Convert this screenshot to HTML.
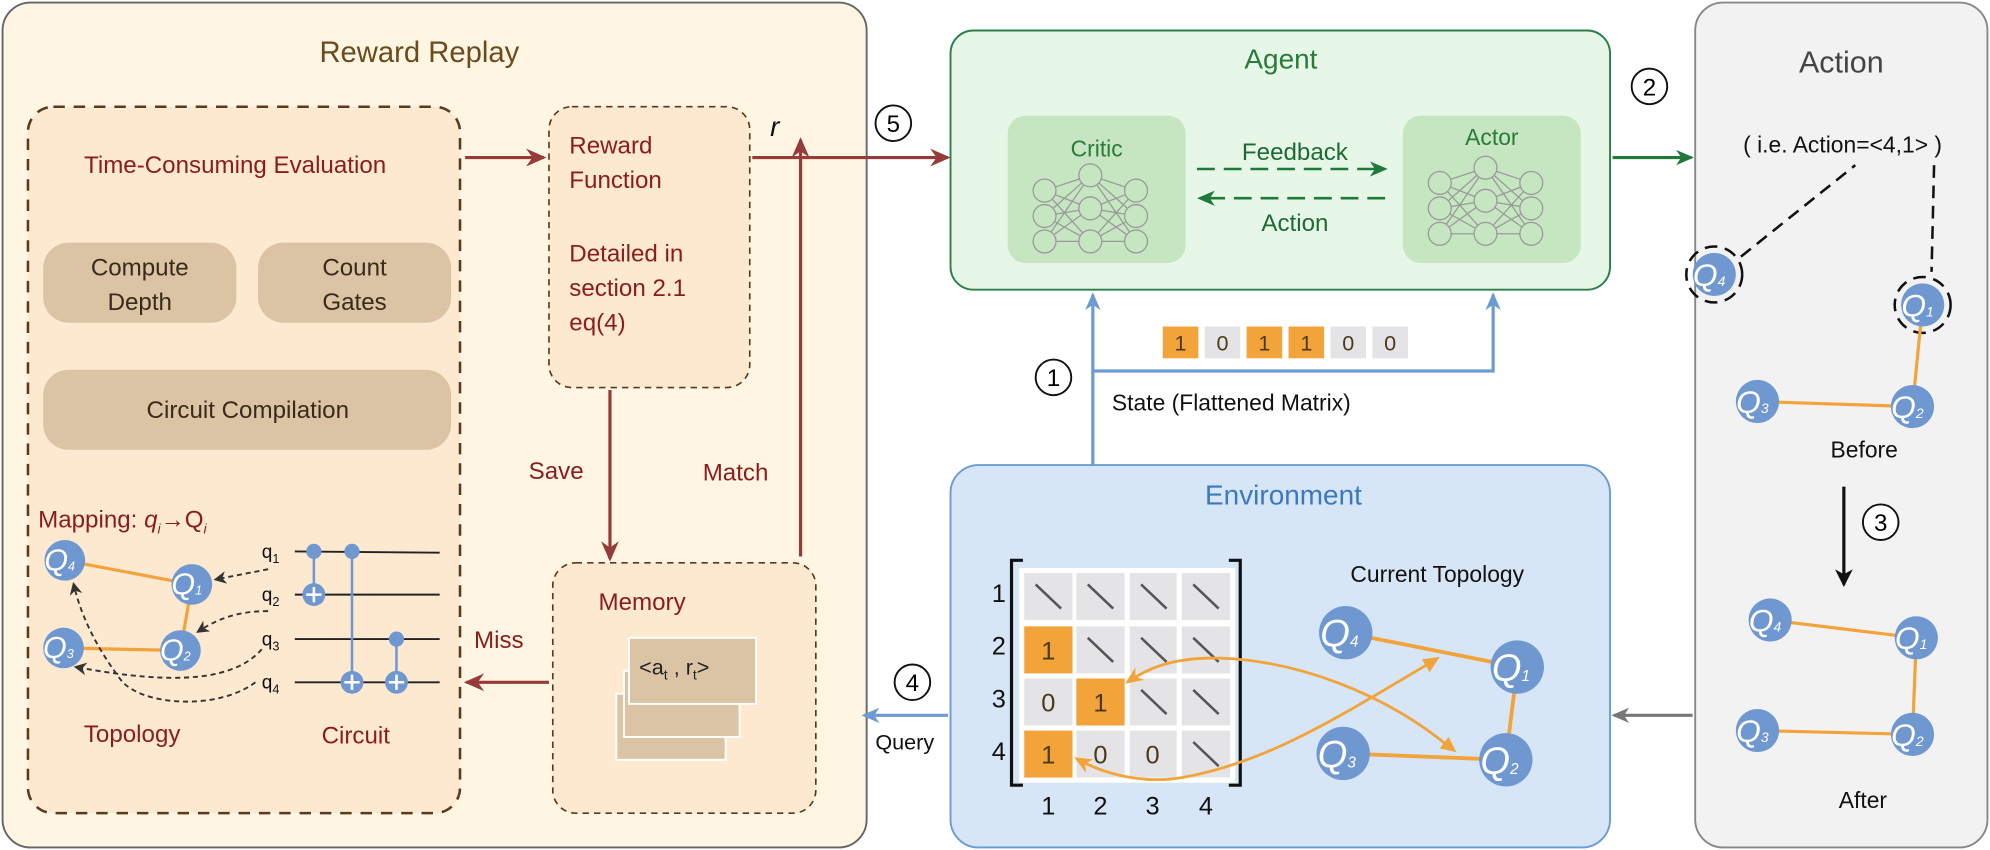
<!DOCTYPE html>
<html><head><meta charset="utf-8"><style>
html,body{margin:0;padding:0;background:#fff;}
svg{display:block;font-family:"Liberation Sans",sans-serif;}
</style></head><body>
<svg width="1990" height="850" viewBox="0 0 1566 669" preserveAspectRatio="none" xmlns="http://www.w3.org/2000/svg">
<defs>
<marker id="ag" markerWidth="14" markerHeight="12" refX="12" refY="6" orient="auto" markerUnits="userSpaceOnUse"><path d="M0,0 L14,6 L0,12 L4,6z" fill="#1f7a3a"/></marker>
<marker id="ab" markerWidth="14" markerHeight="12" refX="12" refY="6" orient="auto" markerUnits="userSpaceOnUse"><path d="M0,0 L14,6 L0,12 L4,6z" fill="#6b9bd2"/></marker>
<marker id="agr" markerWidth="14" markerHeight="12" refX="12" refY="6" orient="auto" markerUnits="userSpaceOnUse"><path d="M0,0 L14,6 L0,12 L4,6z" fill="#777"/></marker>
<marker id="ak" markerWidth="14" markerHeight="14" refX="12" refY="7" orient="auto" markerUnits="userSpaceOnUse"><path d="M0,0 L14,7 L0,14 L4,7z" fill="#111"/></marker>
<marker id="akd" markerWidth="10" markerHeight="10" refX="8" refY="5" orient="auto" markerUnits="userSpaceOnUse"><path d="M0,0 L10,5 L0,10 L3,5z" fill="#333"/></marker>
<marker id="ao" markerWidth="14" markerHeight="12" refX="12" refY="6" orient="auto" markerUnits="userSpaceOnUse"><path d="M0,0 L14,6 L0,12 L4,6z" fill="#f2a33a"/></marker>
<marker id="ar2" markerWidth="16" markerHeight="14" refX="14" refY="7" orient="auto" markerUnits="userSpaceOnUse"><path d="M0,0 L16,7 L0,14 L5,7z" fill="#963a3a"/></marker>
</defs>

<!-- Reward Replay -->
<rect x="2" y="2" width="680" height="665" rx="22" fill="#fef5e2" stroke="#666" stroke-width="1.5"/>
<text x="330" y="49" font-size="23" fill="#6b4a1e" text-anchor="middle">Reward Replay</text>
<rect x="22" y="84" width="340" height="556" rx="20" fill="#fde9d0" stroke="#5a3a1a" stroke-width="2" stroke-dasharray="9,7"/>
<text x="185" y="136" font-size="19" fill="#8b1c1c" text-anchor="middle">Time-Consuming Evaluation</text>
<rect x="34" y="191" width="152" height="63" rx="20" fill="#dbc4a4"/>
<text x="110" y="217" font-size="19" fill="#3a2a1a" text-anchor="middle">Compute</text>
<text x="110" y="244" font-size="19" fill="#3a2a1a" text-anchor="middle">Depth</text>
<rect x="203" y="191" width="152" height="63" rx="20" fill="#dbc4a4"/>
<text x="279" y="217" font-size="19" fill="#3a2a1a" text-anchor="middle">Count</text>
<text x="279" y="244" font-size="19" fill="#3a2a1a" text-anchor="middle">Gates</text>
<rect x="34" y="291" width="321" height="63" rx="20" fill="#dbc4a4"/>
<text x="195" y="329" font-size="19" fill="#3a2a1a" text-anchor="middle">Circuit Compilation</text>

<text x="30" y="415" font-size="19" fill="#8b1c1c">Mapping: <tspan font-style="italic">q</tspan><tspan font-style="italic" font-size="11" dy="5">i</tspan><tspan dy="-5">→Q</tspan><tspan font-style="italic" font-size="11" dy="5">i</tspan></text>
<g stroke="#f2a33a" stroke-width="2.5"><line x1="51" y1="441" x2="151" y2="460"/><line x1="151" y1="460" x2="142" y2="512"/><line x1="50" y1="510" x2="142" y2="512"/></g>
<g fill="#6f98d0"><circle cx="51" cy="441" r="16"/><circle cx="151" cy="460" r="16"/><circle cx="50" cy="510" r="16"/><circle cx="142" cy="512" r="16"/></g>
<g fill="#fff" font-size="24" text-anchor="middle" font-style="italic"><text x="47" y="449">Q<tspan font-size="10">4</tspan></text><text x="147" y="468">Q<tspan font-size="10">1</tspan></text><text x="46" y="518">Q<tspan font-size="10">3</tspan></text><text x="138" y="520">Q<tspan font-size="10">2</tspan></text></g>
<g fill="none" stroke="#333" stroke-width="1.5" stroke-dasharray="4,3">
<path d="M211,448 L170,456" marker-end="url(#akd)"/>
<path d="M211,481 C185,481 170,488 156,497" marker-end="url(#akd)"/>
<path d="M206,511 C185,535 140,540 60,525" marker-end="url(#akd)"/>
<path d="M201,537 C170,560 110,555 95,535 C80,515 65,490 58,460" marker-end="url(#akd)"/>
</g>
<g font-size="15" fill="#111"><text x="206" y="439">q<tspan font-size="10" dy="4">1</tspan></text><text x="206" y="473">q<tspan font-size="10" dy="4">2</tspan></text><text x="206" y="508">q<tspan font-size="10" dy="4">3</tspan></text><text x="206" y="542">q<tspan font-size="10" dy="4">4</tspan></text></g>
<g stroke="#222" stroke-width="1.5"><line x1="232" y1="434" x2="346" y2="435"/><line x1="232" y1="468" x2="346" y2="468"/><line x1="232" y1="503" x2="346" y2="503"/><line x1="232" y1="537" x2="346" y2="537"/></g>
<g stroke="#6f98d0" stroke-width="2"><line x1="247" y1="434" x2="247" y2="468"/><line x1="277" y1="434" x2="277" y2="537"/><line x1="312" y1="503" x2="312" y2="537"/></g>
<g fill="#6f98d0"><circle cx="247" cy="434" r="6"/><circle cx="277" cy="434" r="6"/><circle cx="312" cy="503" r="6"/><circle cx="247" cy="468" r="9"/><circle cx="277" cy="537" r="9"/><circle cx="312" cy="537" r="9"/></g>
<g stroke="#fff" stroke-width="2"><path d="M241,468h12M247,462v12"/><path d="M271,537h12M277,531v12"/><path d="M306,537h12M312,531v12"/></g>
<text x="104" y="584" font-size="19" fill="#8b1c1c" text-anchor="middle">Topology</text>
<text x="280" y="585" font-size="19" fill="#8b1c1c" text-anchor="middle">Circuit</text>

<rect x="432" y="84" width="158" height="221" rx="18" fill="#fde9d0" stroke="#5a3a1a" stroke-width="1.3" stroke-dasharray="5,4"/>
<g font-size="19" fill="#8b1c1c"><text x="448" y="121">Reward</text><text x="448" y="148">Function</text><text x="448" y="206">Detailed in</text><text x="448" y="233">section 2.1</text><text x="448" y="260">eq(4)</text></g>
<rect x="435" y="443" width="207" height="197" rx="18" fill="#fde9d0" stroke="#5a3a1a" stroke-width="1.3" stroke-dasharray="5,4"/>
<text x="471" y="480" font-size="19" fill="#8b1c1c">Memory</text>
<rect x="485" y="546" width="86" height="52" fill="#dbc4a4" stroke="#fff" stroke-width="1.5"/>
<rect x="491" y="528" width="91" height="52" fill="#dbc4a4" stroke="#fff" stroke-width="1.5"/>
<rect x="495" y="502" width="100" height="52" fill="#dbc4a4" stroke="#fff" stroke-width="1.5"/>
<text x="503" y="531" font-size="17" fill="#222">&lt;a<tspan font-size="11" dy="4">t</tspan><tspan dy="-4"> , r</tspan><tspan font-size="11" dy="4">t</tspan><tspan dy="-4">&gt;</tspan></text>

<g stroke="#963a3a" stroke-width="2.5" fill="none">
<line x1="366" y1="124" x2="428" y2="124" marker-end="url(#ar2)"/>
<line x1="592" y1="124" x2="746" y2="124" marker-end="url(#ar2)"/>
<line x1="480" y1="307" x2="480" y2="440" marker-end="url(#ar2)"/>
<line x1="630" y1="438" x2="630" y2="110" marker-end="url(#ar2)"/>
<line x1="432" y1="537" x2="367" y2="537" marker-end="url(#ar2)"/>
</g>
<text x="606" y="107" font-size="22" font-style="italic" fill="#111">r</text>
<text x="416" y="377" font-size="19" fill="#8b1c1c">Save</text>
<text x="553" y="378" font-size="19" fill="#8b1c1c">Match</text>
<text x="373" y="510" font-size="19" fill="#8b1c1c">Miss</text>
<circle cx="703" cy="97" r="14" fill="#fff" stroke="#111" stroke-width="1.5"/><text x="703" y="104" font-size="19" text-anchor="middle">5</text>

<!-- Agent -->
<rect x="748" y="24" width="519" height="204" rx="18" fill="#e6f7e8" stroke="#2e7d4a" stroke-width="1.5"/>
<text x="1008" y="54" font-size="22" fill="#2a7a3a" text-anchor="middle">Agent</text>
<rect x="793" y="91" width="140" height="116" rx="14" fill="#c5e6c0"/>
<rect x="1104" y="91" width="140" height="116" rx="14" fill="#c5e6c0"/>
<text x="863" y="123" font-size="18" fill="#2a7a3a" text-anchor="middle">Critic</text>
<text x="1174" y="114" font-size="18" fill="#2a7a3a" text-anchor="middle">Actor</text>
<g id="nn" stroke="#999" stroke-width="1" fill="none">
<path d="M822,150L858,138M822,150L858,164M822,150L858,190M822,170L858,138M822,170L858,164M822,170L858,190M822,190L858,138M822,190L858,164M822,190L858,190M858,138L894,150M858,138L894,170M858,138L894,190M858,164L894,150M858,164L894,170M858,164L894,190M858,190L894,150M858,190L894,170M858,190L894,190"/>
<g fill="#c5e6c0"><circle cx="822" cy="150" r="9"/><circle cx="822" cy="170" r="9"/><circle cx="822" cy="190" r="9"/><circle cx="858" cy="138" r="9"/><circle cx="858" cy="164" r="9"/><circle cx="858" cy="190" r="9"/><circle cx="894" cy="150" r="9"/><circle cx="894" cy="170" r="9"/><circle cx="894" cy="190" r="9"/></g>
</g>
<use href="#nn" x="311" y="-6"/>
<g stroke="#1f7a3a" stroke-width="2" stroke-dasharray="14,7" fill="none">
<line x1="942" y1="133" x2="1090" y2="133" marker-end="url(#ag)"/>
<line x1="1090" y1="156" x2="944" y2="156" marker-end="url(#ag)"/>
</g>
<text x="1019" y="126" font-size="19" fill="#1f6a34" text-anchor="middle">Feedback</text>
<text x="1019" y="182" font-size="19" fill="#1f6a34" text-anchor="middle">Action</text>
<line x1="1269" y1="124" x2="1331" y2="124" stroke="#1f7a3a" stroke-width="2.5" marker-end="url(#ag)"/>
<circle cx="1298" cy="68" r="14" fill="#fff" stroke="#111" stroke-width="1.5"/><text x="1298" y="75" font-size="19" text-anchor="middle">2</text>

<!-- Action -->
<rect x="1334" y="2" width="230" height="665" rx="22" fill="#f2f2f2" stroke="#888" stroke-width="1.5"/>
<text x="1449" y="57" font-size="24" fill="#444" text-anchor="middle">Action</text>
<text x="1450" y="120" font-size="18" fill="#111" text-anchor="middle">( i.e. Action=&lt;4,1&gt; )</text>
<g stroke="#111" stroke-width="2" stroke-dasharray="10,6" fill="none">
<line x1="1370" y1="202" x2="1460" y2="130"/><line x1="1522" y1="130" x2="1520" y2="214"/>
<circle cx="1349" cy="216" r="22"/><circle cx="1513" cy="240" r="22"/>
</g>
<g stroke="#f2a33a" stroke-width="2.5"><line x1="1513" y1="240" x2="1505" y2="320"/><line x1="1383" y1="316" x2="1505" y2="320"/></g>
<g fill="#6f98d0"><circle cx="1349" cy="216" r="17"/><circle cx="1513" cy="240" r="17"/><circle cx="1383" cy="316" r="17"/><circle cx="1505" cy="320" r="17"/></g>
<g fill="#fff" font-size="25" text-anchor="middle" font-style="italic"><text x="1345" y="225">Q<tspan font-size="11">4</tspan></text><text x="1509" y="249">Q<tspan font-size="11">1</tspan></text><text x="1379" y="325">Q<tspan font-size="11">3</tspan></text><text x="1501" y="329">Q<tspan font-size="11">2</tspan></text></g>
<text x="1467" y="360" font-size="18" fill="#111" text-anchor="middle">Before</text>
<line x1="1451" y1="383" x2="1451" y2="460" stroke="#111" stroke-width="2.5" marker-end="url(#ak)"/>
<circle cx="1480" cy="411" r="14" fill="#fff" stroke="#111" stroke-width="1.5"/><text x="1480" y="418" font-size="19" text-anchor="middle">3</text>
<g stroke="#f2a33a" stroke-width="2.5"><line x1="1393" y1="488" x2="1508" y2="502"/><line x1="1508" y1="502" x2="1505" y2="578"/><line x1="1383" y1="575" x2="1505" y2="578"/></g>
<g fill="#6f98d0"><circle cx="1393" cy="488" r="17"/><circle cx="1508" cy="502" r="17"/><circle cx="1383" cy="575" r="17"/><circle cx="1505" cy="578" r="17"/></g>
<g fill="#fff" font-size="25" text-anchor="middle" font-style="italic"><text x="1389" y="497">Q<tspan font-size="11">4</tspan></text><text x="1504" y="511">Q<tspan font-size="11">1</tspan></text><text x="1379" y="584">Q<tspan font-size="11">3</tspan></text><text x="1501" y="587">Q<tspan font-size="11">2</tspan></text></g>
<text x="1466" y="636" font-size="18" fill="#111" text-anchor="middle">After</text>
<line x1="1332" y1="563" x2="1270" y2="563" stroke="#777" stroke-width="2.5" marker-end="url(#agr)"/>

<!-- Environment -->
<rect x="748" y="366" width="519" height="301" rx="22" fill="#d6e6f7" stroke="#6b9bd2" stroke-width="1.5"/>
<text x="1010" y="397" font-size="22" fill="#3c78c0" text-anchor="middle">Environment</text>
<rect x="802" y="447" width="170" height="169" fill="#fff"/>
<g fill="#e4e4e6">
<rect x="806" y="451" width="38" height="37"/><rect x="847" y="451" width="38" height="37"/><rect x="889" y="451" width="37" height="37"/><rect x="930" y="451" width="38" height="37"/>
<rect x="847" y="493" width="38" height="37"/><rect x="889" y="493" width="37" height="37"/><rect x="930" y="493" width="38" height="37"/>
<rect x="806" y="534" width="38" height="37"/><rect x="889" y="534" width="37" height="37"/><rect x="930" y="534" width="38" height="37"/>
<rect x="847" y="575" width="38" height="37"/><rect x="889" y="575" width="37" height="37"/><rect x="930" y="575" width="38" height="37"/>
</g>
<g fill="#f2a33a"><rect x="806" y="493" width="38" height="37"/><rect x="847" y="534" width="38" height="37"/><rect x="806" y="575" width="38" height="37"/></g>
<g stroke="#555" stroke-width="2">
<path d="M815,460l20,19M856,460l20,19M898,460l20,19M939,460l20,19M856,502l20,19M898,502l20,19M939,502l20,19M898,543l20,19M939,543l20,19M939,584l20,19"/>
</g>
<g font-size="20" fill="#4a3a1a" text-anchor="middle"><text x="825" y="519">1</text><text x="825" y="560">0</text><text x="866" y="560">1</text><text x="825" y="601">1</text><text x="866" y="601">0</text><text x="907" y="601">0</text></g>
<g stroke="#111" stroke-width="2.5" fill="none"><path d="M805,441h-9v177h9"/><path d="M967,441h9v177h-9"/></g>
<g font-size="20" fill="#111" text-anchor="middle"><text x="786" y="474">1</text><text x="786" y="515">2</text><text x="786" y="557">3</text><text x="786" y="598">4</text>
<text x="825" y="641">1</text><text x="866" y="641">2</text><text x="907" y="641">3</text><text x="949" y="641">4</text></g>
<text x="1131" y="458" font-size="18" fill="#111" text-anchor="middle">Current Topology</text>
<g stroke="#f2a33a" stroke-width="3"><line x1="1059" y1="498" x2="1194" y2="525"/><line x1="1194" y1="525" x2="1185" y2="598"/><line x1="1057" y1="593" x2="1185" y2="598"/></g>
<g fill="none" stroke="#f2a33a" stroke-width="2.2">
<path d="M1130,519 C1060,560 1000,600 930,612 C900,617 870,610 847,597" marker-end="url(#ao)"/>
<path d="M1143,590 C1090,545 1020,520 960,518 C920,517 900,528 887,537" marker-end="url(#ao)"/>
</g>
<path d="M1133,517l-14,2l6,10z" fill="#f2a33a"/>
<path d="M1146,592l-6,-12l-7,9z" fill="#f2a33a"/>
<g fill="#6f98d0"><circle cx="1059" cy="498" r="21"/><circle cx="1194" cy="525" r="21"/><circle cx="1057" cy="593" r="21"/><circle cx="1185" cy="598" r="21"/></g>
<g fill="#fff" font-size="30" text-anchor="middle" font-style="italic"><text x="1054" y="509">Q<tspan font-size="12">4</tspan></text><text x="1189" y="536">Q<tspan font-size="12">1</tspan></text><text x="1052" y="604">Q<tspan font-size="12">3</tspan></text><text x="1180" y="609">Q<tspan font-size="12">2</tspan></text></g>

<g stroke="#6b9bd2" stroke-width="2.5" fill="none">
<line x1="860" y1="366" x2="860" y2="232" marker-end="url(#ab)"/>
<polyline points="860,292 1175,292 1175,232" marker-end="url(#ab)"/>
<line x1="746" y1="563" x2="680" y2="563" marker-end="url(#ab)"/>
</g>
<rect x="915" y="257" width="28" height="25" fill="#f2a33a"/><rect x="948" y="257" width="28" height="25" fill="#e4e4e6"/><rect x="981" y="257" width="28" height="25" fill="#f2a33a"/><rect x="1014" y="257" width="28" height="25" fill="#f2a33a"/><rect x="1047" y="257" width="28" height="25" fill="#e4e4e6"/><rect x="1080" y="257" width="28" height="25" fill="#e4e4e6"/>
<g font-size="17" fill="#4a3a1a" text-anchor="middle"><text x="929" y="276">1</text><text x="962" y="276">0</text><text x="995" y="276">1</text><text x="1028" y="276">1</text><text x="1061" y="276">0</text><text x="1094" y="276">0</text></g>
<circle cx="829" cy="297" r="14" fill="#fff" stroke="#111" stroke-width="1.5"/><text x="829" y="304" font-size="19" text-anchor="middle">1</text>
<text x="875" y="323" font-size="18" fill="#111">State (Flattened Matrix)</text>
<circle cx="718" cy="537" r="14" fill="#fff" stroke="#111" stroke-width="1.5"/><text x="718" y="544" font-size="19" text-anchor="middle">4</text>
<text x="712" y="590" font-size="17" fill="#111" text-anchor="middle">Query</text>
</svg>
</body></html>
